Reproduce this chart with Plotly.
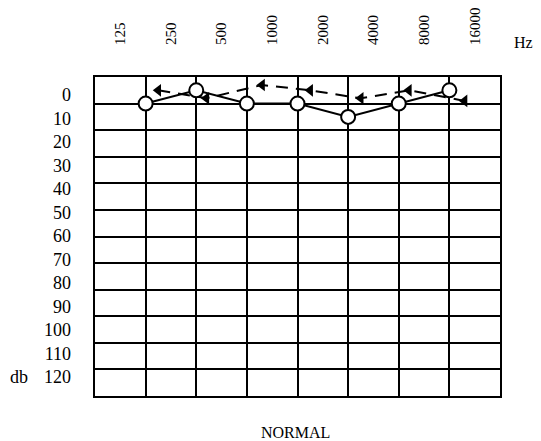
import plotly.graph_objects as go

# Data
freq_labels = ["125", "250", "500", "1000", "2000", "4000", "8000", "16000"]
freq_label_pos = [0.5, 1.5, 2.5, 3.5, 4.5, 5.5, 6.5, 7.5]
db_labels = ["0", "10", "20", "30", "40", "50", "60", "70", "80", "90", "100", "110", "120"]
db_label_vals = [0, 10, 20, 30, 40, 50, 60, 70, 80, 90, 100, 110, 120]

circle_x = [1, 2, 3, 4, 5, 6, 7]
circle_db = [10, 5, 10, 10, 15, 10, 5]

tri_x = [1.25, 2.2, 3.3, 4.25, 5.25, 6.2, 7.3]
tri_db = [5, 8, 3, 5, 8, 5, 9]

FONT = "Liberation Serif"

fig = go.Figure()

fig.add_trace(go.Scatter(
    x=tri_x, y=tri_db, mode="lines+markers",
    line=dict(color="black", width=2, dash="12px,8px"),
    marker=dict(symbol="triangle-left", size=11, color="black"),
    showlegend=False, hoverinfo="skip"))

fig.add_trace(go.Scatter(
    x=circle_x, y=circle_db, mode="lines+markers",
    line=dict(color="black", width=2),
    marker=dict(symbol="circle", size=14, color="white",
                line=dict(color="black", width=2)),
    showlegend=False, hoverinfo="skip"))

# invisible trace for the label axis
fig.add_trace(go.Scatter(x=[None], y=[None], yaxis="y2", showlegend=False,
                         hoverinfo="skip"))

fig.update_layout(
    width=541, height=441,
    margin=dict(l=87, r=49, t=69, b=53, autoexpand=False),
    paper_bgcolor="white", plot_bgcolor="white",
    font=dict(family=FONT, color="black"),
    xaxis=dict(
        range=[0, 8], side="top", automargin=False,
        tickmode="array", tickvals=freq_label_pos, ticktext=freq_labels,
        tickangle=-90, tickfont=dict(size=15, family=FONT),
        ticks="", ticklabelstandoff=27,
        showgrid=False, zeroline=False,
        showline=True, linecolor="black", linewidth=2, mirror=True,
        minor=dict(tickmode="linear", tick0=0, dtick=1, showgrid=True,
                   gridcolor="black", gridwidth=2, ticks=""),
        fixedrange=True),
    yaxis=dict(
        range=[120, 0], tickmode="linear", tick0=0, dtick=10,
        showticklabels=False, ticks="", automargin=False,
        showgrid=True, gridcolor="black", gridwidth=2, zeroline=False,
        showline=True, linecolor="black", linewidth=2, mirror=True,
        fixedrange=True),
    yaxis2=dict(
        overlaying="y", side="left", range=[128.1, -7.7], automargin=False,
        tickmode="array", tickvals=db_label_vals, ticktext=db_labels,
        tickfont=dict(size=18, family=FONT), ticks="",
        ticklabelstandoff=23,
        showgrid=False, zeroline=False, showline=False, fixedrange=True),
    annotations=[
        dict(text="Hz", xref="paper", yref="paper", x=1.058, y=1.107,
             xanchor="center", yanchor="middle", showarrow=False,
             font=dict(size=16, family=FONT)),
        dict(text="db", xref="paper", yref="y2", x=-0.16, y=120,
             xanchor="right", yanchor="middle", showarrow=False,
             font=dict(size=18, family=FONT)),
        dict(text="NORMAL", xref="paper", yref="paper", x=0.494, y=-0.113,
             xanchor="center", yanchor="middle", showarrow=False,
             font=dict(size=16, family=FONT)),
    ],
)

fig.write_html("out.html")
